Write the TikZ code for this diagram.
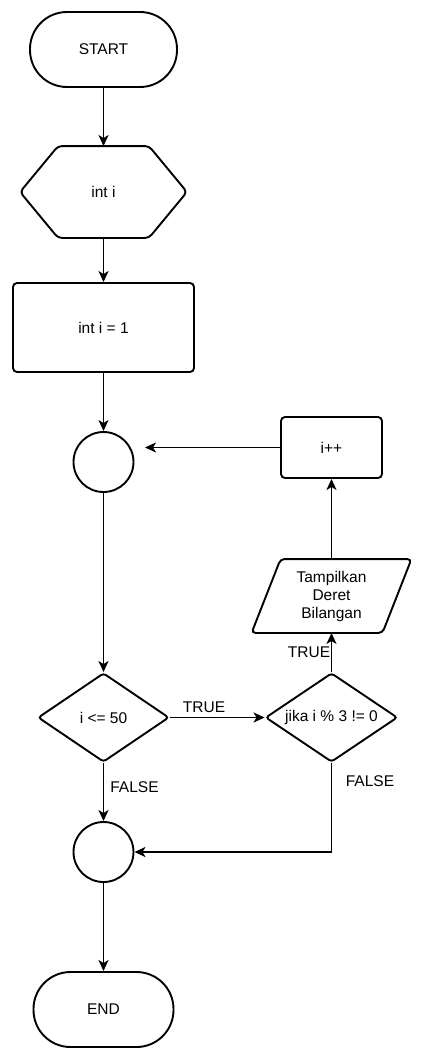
\documentclass[tikz,border=0pt]{standalone}
\usepackage{fontspec}
\setmainfont{Liberation Sans}
\usetikzlibrary{arrows.meta,shapes.geometric,calc}
\begin{document}
\begin{tikzpicture}[x=1pt,y=1pt,
  line width=1.9pt,
  font=\fontsize{15.5}{18}\selectfont,
  arr/.style={-{Stealth[length=11pt,width=10pt,inset=3pt]}},
  term/.style={draw,rectangle,rounded corners=37pt,minimum width=#1,minimum height=75pt,inner sep=0pt},
  box/.style={draw,rectangle,rounded corners=4pt,inner sep=0pt},
  conn/.style={draw,circle,minimum size=60pt,inner sep=0pt},
  dia/.style={draw,diamond,rounded corners=3pt,inner sep=0pt},
  frame/.style={inner sep=0pt},
  lbl/.style={inner sep=0pt}
]
\useasboundingbox (0,0) rectangle (440,-1057);
\fill[white] (0,0) rectangle (440,-1057);

\node[term=147pt] (start) at (103.5,-49.5) {START};
\node[frame,minimum width=165pt,minimum height=90pt] (hex) at (103.5,-192) {int i};
\draw[rounded corners=4pt] (hex.west) -- ([xshift=38pt]hex.north west) -- ([xshift=-38pt]hex.north east) -- (hex.east) -- ([xshift=-38pt]hex.south east) -- ([xshift=38pt]hex.south west) -- cycle;
\node[box,minimum width=181pt,minimum height=89pt] (init) at (103.5,-327.5) {int i = 1};
\node[conn] (c1) at (103.5,-462) {};
\node[dia,minimum width=131pt,minimum height=89pt,label=center:{i <= 50}] (d1) at (103.5,-717.5) {};
\node[dia,minimum width=132pt,minimum height=89pt,label=center:{jika i \% 3 != 0}] (d2) at (331.5,-717.5) {};
\node[frame,minimum width=158pt,minimum height=72pt,align=center] (out) at (331.5,-596) {Tampilkan\\Deret\\Bilangan};
\draw[rounded corners=4pt] ([xshift=29pt]out.north west) -- (out.north east) -- ([xshift=-29pt]out.south east) -- (out.south west) -- cycle;
\node[box,minimum width=101pt,minimum height=61pt] (inc) at (331.5,-447.5) {i++};
\node[conn] (c2) at (103.5,-852) {};
\node[term=140pt] (end) at (103.5,-1009.5) {END};
\coordinate (back) at (145,-447.5);

\draw[arr] (start.south) -- (hex.north);
\draw[arr] (hex.south) -- (init.north);
\draw[arr] (init.south) -- (c1.north);
\draw[arr] (c1.south) -- (d1.north);
\draw[arr] (d1.east) -- (d2.west);
\draw[arr] (d2.north) -- (out.south);
\draw[arr] (out.north) -- (inc.south);
\draw[arr] (inc.west) -- (back);
\draw[arr] (d1.south) -- (c2.north);
\draw[arr] (d2.south) -- (d2.south |- c2.east) -- (c2.east);
\draw[arr] (c2.south) -- (end.north);

\node[lbl] (t1) at (204,-707) {TRUE};
\node[lbl] (t2) at (309,-652) {TRUE};
\node[lbl] (f1) at (134.5,-787) {FALSE};
\node[lbl] (f2) at (370,-781) {FALSE};
\end{tikzpicture}
\end{document}
